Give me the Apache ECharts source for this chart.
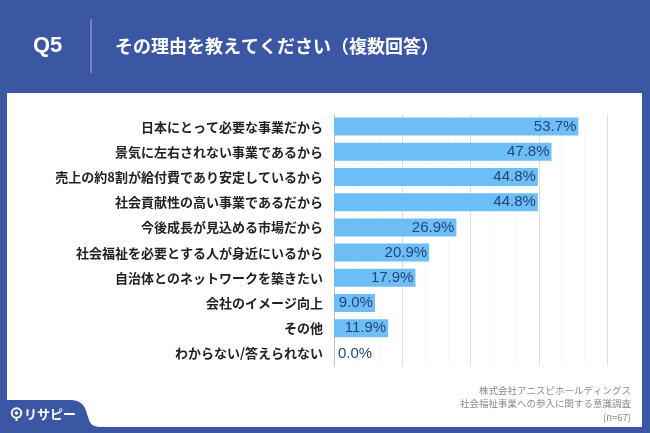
<!DOCTYPE html>
<html><head><meta charset="utf-8">
<script src="https://cdn.jsdelivr.net/npm/echarts@6/dist/echarts.min.js"></script>
<style>html,body{margin:0;padding:0;background:#3b56a2}#c{width:650px;height:433px}</style>
</head><body><div id="c"></div>
<script>
const categories = [
  '日本にとって必要な事業だから',
  '景気に左右されない事業であるから',
  '売上の約8割が給付費であり安定しているから',
  '社会貢献性の高い事業であるだから',
  '今後成長が見込める市場だから',
  '社会福祉を必要とする人が身近にいるから',
  '自治体とのネットワークを築きたい',
  '会社のイメージ向上',
  'その他',
  'わからない/答えられない'
];
const values = [53.7, 47.8, 44.8, 44.8, 26.9, 20.9, 17.9, 9.0, 11.9, 0.0];
const xTicks = [0, 15, 30, 45, 60];
const titleQ = 'Q5';
const titleText = 'その理由を教えてください（複数回答）';
const footnotes = ['株式会社アニスピホールディングス', '社会福祉事業への参入に関する意識調査', '(n=67)'];
const logoText = 'リサピー';

const chart = echarts.init(document.getElementById('c'));
const CJK = '"Noto Sans CJK JP", "Noto Sans", sans-serif';

// logo tab outline (S-shaped right edge)
function quad(p0, p1, p2, n) {
  const out = [];
  for (let i = 1; i <= n; i++) {
    const t = i / n, u = 1 - t;
    out.push([u * u * p0[0] + 2 * u * t * p1[0] + t * t * p2[0], u * u * p0[1] + 2 * u * t * p1[1] + t * t * p2[1]]);
  }
  return out;
}
const tabPts = [[0, 400], [70, 400]]
  .concat(quad([70, 400], [83, 400], [86, 411], 10))
  .concat([[89, 420]])
  .concat(quad([89, 420], [91, 427], [101, 427], 10))
  .concat([[101, 433], [0, 433]]);

const graphics = [
  { type: 'rect', z: -10, shape: { x: 7, y: 93, width: 635, height: 334 }, style: { fill: '#ffffff' } },
  { type: 'polygon', z: -5, shape: { points: tabPts }, style: { fill: '#3b56a2' } },
  { type: 'circle', z: 5, shape: { cx: 16.5, cy: 413, r: 4.8 }, style: { fill: 'none', stroke: '#fff', lineWidth: 2 } },
  { type: 'circle', z: 5, shape: { cx: 16.5, cy: 413, r: 1.8 }, style: { fill: '#fff' } },
  { type: 'line', z: 5, shape: { x1: 16.5, y1: 418, x2: 16.5, y2: 421 }, style: { stroke: '#fff', lineWidth: 2 } },
  { type: 'text', z: 5, x: 24, y: 414, style: { text: logoText, fill: '#fff', font: 'bold 13px ' + CJK, verticalAlign: 'middle' } },
  { type: 'text', x: 33, y: 46, style: { text: titleQ, fill: '#fff', font: 'bold 22px "Liberation Sans", Arial, sans-serif', verticalAlign: 'middle' } },
  { type: 'line', shape: { x1: 91, y1: 19, x2: 91, y2: 73 }, style: { stroke: '#8696c8', lineWidth: 1.5 } },
  { type: 'text', x: 115, y: 46, style: { text: titleText, fill: '#fff', font: 'bold 18px ' + CJK, verticalAlign: 'middle' } }
];
footnotes.forEach((t, i) => {
  graphics.push({ type: 'text', x: 631, y: 390 + i * 13.5, style: { text: t, fill: '#8a8a8a', font: '9.5px ' + CJK, align: 'right', verticalAlign: 'middle' } });
});

chart.setOption({
  animation: false,
  backgroundColor: '#3b56a2',
  graphic: graphics,
  grid: { left: 334, right: 43, top: 114, bottom: 67, containLabel: false },
  xAxis: {
    type: 'value', min: xTicks[0], max: xTicks[xTicks.length - 1], interval: xTicks[1] - xTicks[0],
    axisLabel: { show: false }, axisLine: { show: false }, axisTick: { show: false },
    splitLine: { show: true, lineStyle: { color: '#dedede', width: 1 } },
    minorSplitLine: { show: true, lineStyle: { color: '#f1f1f1', type: 'dotted' } },
    minorTick: { show: false, splitNumber: 3 }
  },
  yAxis: {
    type: 'category', data: categories, inverse: true,
    axisLine: { show: true, lineStyle: { color: '#c4c4c4', width: 1 } },
    axisTick: { show: false },
    axisLabel: { color: '#222', fontSize: 13, fontWeight: 'bold', fontFamily: CJK, margin: 11 }
  },
  series: [{
    type: 'bar', barWidth: 18,
    itemStyle: { color: '#6dbdf6' },
    label: {
      show: true, position: 'insideRight', distance: 2,
      color: '#264676', fontSize: 15, fontFamily: '"Liberation Sans", Arial, sans-serif',
      formatter: p => p.value.toFixed(1) + '%'
    },
    data: values.map(v => v === 0 ? { value: v, label: { position: 'right', distance: 4 } } : { value: v })
  }]
});
</script>
</body></html>
